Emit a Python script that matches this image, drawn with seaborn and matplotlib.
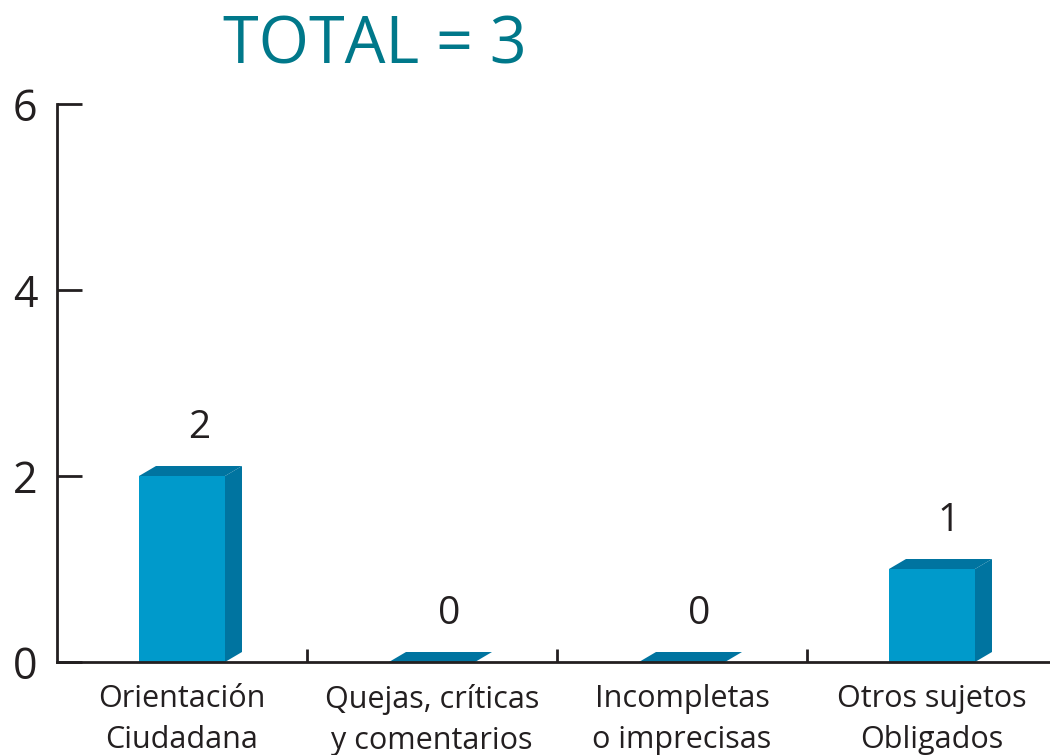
import matplotlib
matplotlib.use("Agg")
import matplotlib.pyplot as plt
from matplotlib.patches import Polygon
import seaborn as sns

# ===================== 数据 =====================
categorias = ["Orientación\nCiudadana", "Quejas, críticas\ny comentarios",
              "Incompletas\no imprecisas", "Otros sujetos\nObligados"]
valores = [2, 0, 0, 1]
total = sum(valores)
yticks = [0, 2, 4, 6]

# colores
c_frente = "#009acb"
c_lado = "#0074a0"
c_texto = "#231f20"
c_titulo = "#00788a"

sns.set_theme(style="white")
plt.rcParams["font.family"] = ["Open Sans", "DejaVu Sans"]

W, H = 1050, 755
fig = plt.figure(figsize=(W / 100, H / 100), dpi=100)
ax = fig.add_axes([57 / W, (H - 662) / H, 1000 / W, 558 / H])

sns.barplot(x=categorias, y=valores, width=0.344, color=c_frente,
            saturation=1, linewidth=0, ax=ax)
ax.set_xlim(-0.5, 3.5)
ax.set_ylim(0, 6)

# profundidad 3D en pixeles -> unidades de datos
px_x = 1000 / 4.0
px_y = 558 / 6.0
dx = 17 / px_x
dy = 10 / px_y

for p in list(ax.patches):
    x0 = p.get_x()
    w = p.get_width()
    h = p.get_height()
    x1 = x0 + w
    # cara lateral
    if h > 0:
        ax.add_patch(Polygon([(x1, 0), (x1 + dx, dy), (x1 + dx, h + dy), (x1, h)],
                             closed=True, facecolor=c_lado, edgecolor="none",
                             zorder=3, clip_on=False))
    # cara superior
    ax.add_patch(Polygon([(x0, h), (x0 + dx, h + dy), (x1 + dx, h + dy), (x1, h)],
                         closed=True, facecolor=c_lado, edgecolor="none",
                         zorder=3, clip_on=False))
    # etiqueta de valor
    ax.text(x0 + w / 2 + dx, h + dy + 28 / px_y, f"{h:.0f}", ha="center",
            va="baseline", fontsize=28, color=c_texto)

# ===================== ejes =====================
sns.despine(ax=ax, top=True, right=True)
for s in ["left", "bottom"]:
    ax.spines[s].set_color(c_texto)
    ax.spines[s].set_linewidth(2)
    ax.spines[s].set_zorder(4)

ax.set_yticks(yticks)
ax.set_yticklabels([str(t) for t in yticks])
ax.tick_params(axis="y", direction="in", length=18, width=2, color=c_texto,
               labelsize=31, labelcolor=c_texto, pad=14, left=True)
ax.set_xticks([0.5, 1.5, 2.5], minor=True)
ax.tick_params(axis="x", which="minor", direction="in", length=9.5, width=2,
               color=c_texto, bottom=True)
ax.tick_params(axis="x", which="major", length=0, labelsize=22,
               labelcolor=c_texto, pad=16)
for lbl in ax.get_xticklabels():
    lbl.set_linespacing(1.45)
ax.set_xlabel("")
ax.set_ylabel("")
ax.grid(False)

fig.text(375 / W, 1 - 63 / H, f"TOTAL = {total}", ha="center", va="baseline",
         fontsize=46.5, color=c_titulo)

fig.savefig("out.png", dpi=100)
